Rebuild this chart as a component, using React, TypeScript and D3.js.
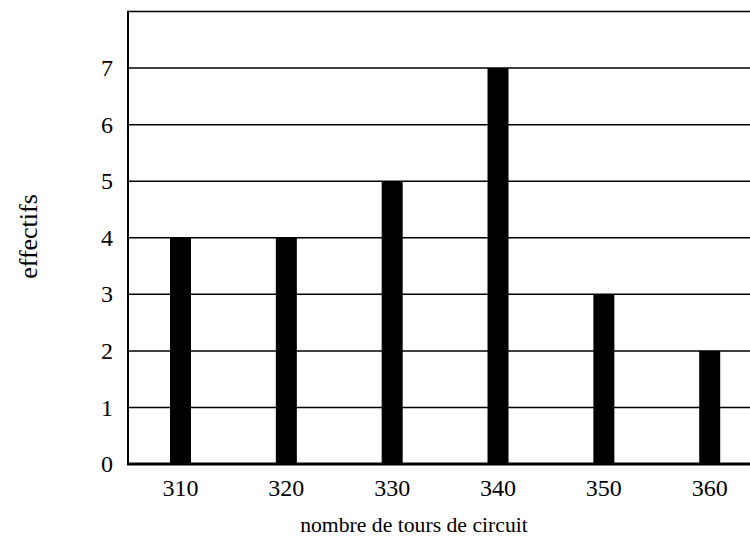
import React from "react";
import * as d3 from "d3";

const categories = [310, 320, 330, 340, 350, 360];
const counts = [4, 4, 5, 7, 3, 2];
const yTicks = [0, 1, 2, 3, 4, 5, 6, 7];
const xLabel = "nombre de tours de circuit";
const yLabel = "effectifs";

export default function App() {
  const W = 750;
  const H = 539;
  const left = 128;
  const right = 750;
  const x = d3.scaleLinear().domain([310, 360]).range([180.5, 709.7]);
  const y = d3.scaleLinear().domain([0, 8]).range([464, 11.5]);
  const barW = 21;
  const font = "'Liberation Serif', serif";

  return (
    <svg
      width={W}
      height={H}
      style={{ position: "absolute", left: 0, top: 0, background: "#fff" }}
    >
      {yTicks.slice(1).map((t) => (
        <line key={t} x1={left} x2={right} y1={y(t)} y2={y(t)} stroke="#000" strokeWidth={1.5} />
      ))}
      <line x1={left} x2={right} y1={y(8)} y2={y(8)} stroke="#000" strokeWidth={1.6} />
      {categories.map((c, i) => (
        <rect key={c} x={x(c) - barW / 2} y={y(counts[i])} width={barW} height={y(0) - y(counts[i])} fill="#000" />
      ))}
      <line x1={left} x2={left} y1={y(8) - 0.8} y2={y(0)} stroke="#000" strokeWidth={2} />
      <line x1={left - 1} x2={right} y1={y(0)} y2={y(0)} stroke="#000" strokeWidth={3} />
      {yTicks.map((t) => (
        <text key={t} x={left - 15} y={y(t)} dy="0.34em" textAnchor="end" fontFamily={font} fontSize={24} fill="#000">
          {t}
        </text>
      ))}
      {categories.map((c) => (
        <text key={c} x={x(c)} y={496} textAnchor="middle" fontFamily={font} fontSize={24} fill="#000">
          {c}
        </text>
      ))}
      <text x={414} y={532} textAnchor="middle" fontFamily={font} fontSize={21.7} fill="#000">
        {xLabel}
      </text>
      <text transform="translate(37,236.5) rotate(-90)" textAnchor="middle" fontFamily={font} fontSize={26} fill="#000">
        {yLabel}
      </text>
    </svg>
  );
}
